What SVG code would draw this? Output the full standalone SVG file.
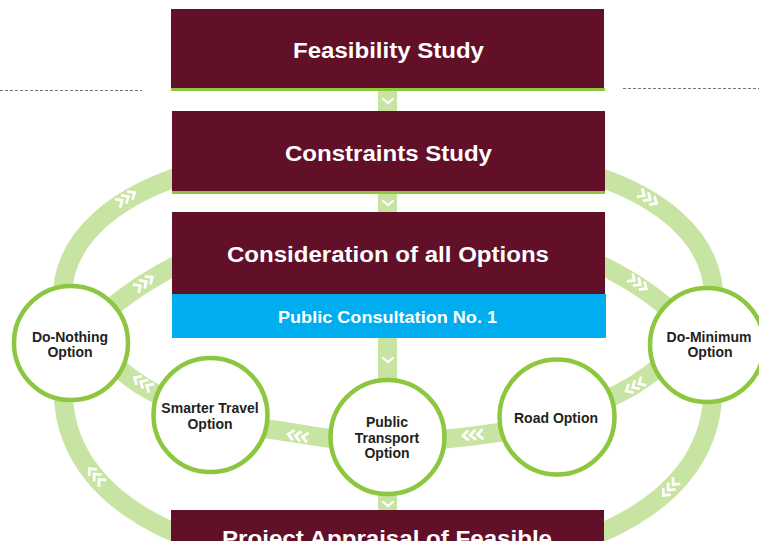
<svg xmlns="http://www.w3.org/2000/svg" xmlns:xlink="http://www.w3.org/1999/xlink" width="759" height="541" viewBox="0 0 759 541">
  <style>
    .band { fill: none; stroke: #c8e4a3; stroke-width: 19; }
    .vband { fill: #c8e4a3; }
    .box { fill: #620f28; }
    .rule { fill: #8dc63f; }
    .blue { fill: #00adee; }
    .title { font-family: "Liberation Sans", Arial, sans-serif; font-weight: bold; fill: #ffffff; text-anchor: middle; }
    .opt { fill: #ffffff; stroke: #8dc63f; stroke-width: 4.5; }
    .label { font-family: "Liberation Sans", Arial, sans-serif; font-weight: bold; font-size: 14px; fill: #231f20; text-anchor: middle; }
    .chev { fill: none; stroke: #ffffff; stroke-width: 2.8; }
    .dash { stroke: #7a7a7a; stroke-width: 1; stroke-dasharray: 3 2; }
  </style>
  <defs>
    <!-- three arrow chevrons pointing along +x -->
    <g id="chev3" class="chev">
      <polyline points="-10,-5 -4.5,0 -10,5"/>
      <polyline points="-2.75,-5 2.75,0 -2.75,5"/>
      <polyline points="4.5,-5 10,0 4.5,5"/>
    </g>
    <!-- single downward chevron for the central spine -->
    <polyline id="down" class="chev" points="-5.5,-2.5 0,2 5.5,-2.5" style="stroke-width:2.2"/>
  </defs>

  <!-- dashed side rules -->
  <line class="dash" x1="0" y1="90.5" x2="142" y2="90.5"/>
  <line class="dash" x1="623" y1="88.5" x2="759" y2="88.5"/>

  <g id="connectors">
    <!-- outer loop -->
    <path class="band" d="M 200 170 C 120 192, 62 235, 62 300 L 62 395"/>
    <path class="band" d="M 63 390 C 64 455, 105 505, 185 537"/>
    <path class="band" d="M 576 170 C 656 192, 714 235, 714 300 L 714 395"/>
    <path class="band" d="M 713 390 C 712 455, 671 505, 591 537"/>
    <!-- inner loop -->
    <path class="band" d="M 200 254 C 175 265, 140 283, 108 310"/>
    <path class="band" d="M 576 254 C 603 265, 640 283, 672 312"/>
    <path class="band" d="M 110 360 C 130 380, 150 392, 170 400"/>
    <path class="band" d="M 600 402 C 625 392, 645 380, 665 362"/>
    <path class="band" d="M 260 428 C 285 431, 310 436, 340 440"/>
    <path class="band" d="M 435 440 C 460 438, 485 435, 510 431"/>
    <!-- central spine -->
    <rect class="vband" x="378" y="88" width="19" height="427"/>

    <!-- flow chevrons -->
    <use xlink:href="#chev3" transform="translate(126 198) rotate(-32)"/>
    <use xlink:href="#chev3" transform="translate(648 198) rotate(32)"/>
    <use xlink:href="#chev3" transform="translate(144 283) rotate(-35)"/>
    <use xlink:href="#chev3" transform="translate(638 283) rotate(35)"/>
    <use xlink:href="#chev3" transform="translate(143 383) rotate(212)"/>
    <use xlink:href="#chev3" transform="translate(298 436) rotate(190)"/>
    <use xlink:href="#chev3" transform="translate(473 435) rotate(175)"/>
    <use xlink:href="#chev3" transform="translate(635 386) rotate(150)"/>
    <use xlink:href="#chev3" transform="translate(96 476) rotate(228)"/>
    <use xlink:href="#chev3" transform="translate(670 488) rotate(132)"/>
    <use xlink:href="#down" transform="translate(388 101)"/>
    <use xlink:href="#down" transform="translate(388 203)"/>
    <use xlink:href="#down" transform="translate(388 360)"/>
    <use xlink:href="#down" transform="translate(388 504)"/>
  </g>

  <g id="feasibility">
    <rect class="box" x="171" y="9" width="433" height="79"/>
    <rect class="rule" x="171" y="88" width="434" height="3"/>
    <text class="title" x="388.5" y="58" font-size="22" textLength="191" lengthAdjust="spacingAndGlyphs">Feasibility Study</text>
  </g>

  <g id="constraints">
    <rect class="box" x="172" y="111" width="433" height="81"/>
    <rect class="rule" x="172" y="191" width="433" height="3"/>
    <text class="title" x="388.5" y="161" font-size="22" textLength="207" lengthAdjust="spacingAndGlyphs">Constraints Study</text>
  </g>

  <g id="options">
    <rect class="box" x="172" y="212" width="433" height="82"/>
    <text class="title" x="388" y="262" font-size="22" textLength="322" lengthAdjust="spacingAndGlyphs">Consideration of all Options</text>
    <rect class="blue" x="172" y="294" width="434" height="44"/>
    <text class="title" x="387.5" y="323" font-size="17" textLength="219" lengthAdjust="spacingAndGlyphs">Public Consultation No. 1</text>
  </g>

  <g id="appraisal">
    <rect class="box" x="171" y="510" width="433" height="40"/>
    <text class="title" x="387" y="546" font-size="22" textLength="330" lengthAdjust="spacingAndGlyphs">Project Appraisal of Feasible</text>
  </g>

  <g id="do-nothing">
    <circle class="opt" cx="71" cy="343" r="57"/>
    <text class="label" x="70" y="342">Do-Nothing</text>
    <text class="label" x="70" y="357">Option</text>
  </g>

  <g id="smarter-travel">
    <circle class="opt" cx="210.5" cy="415" r="57"/>
    <text class="label" x="210" y="413">Smarter Travel</text>
    <text class="label" x="210" y="429">Option</text>
  </g>

  <g id="public-transport">
    <circle class="opt" cx="387.5" cy="437" r="57"/>
    <text class="label" x="387" y="427">Public</text>
    <text class="label" x="387" y="443">Transport</text>
    <text class="label" x="387" y="458">Option</text>
  </g>

  <g id="road">
    <circle class="opt" cx="557" cy="417" r="57.5"/>
    <text class="label" x="556" y="423">Road Option</text>
  </g>

  <g id="do-minimum">
    <circle class="opt" cx="707" cy="345" r="57"/>
    <text class="label" x="709" y="342">Do-Minimum</text>
    <text class="label" x="710" y="357">Option</text>
  </g>
</svg>
